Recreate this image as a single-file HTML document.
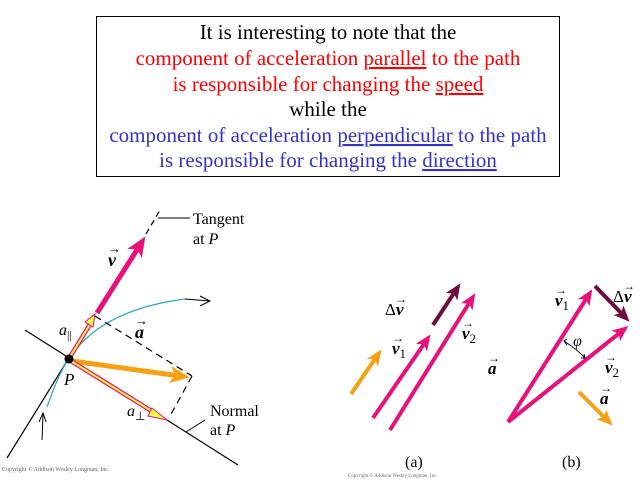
<!DOCTYPE html>
<html><head><style>
html,body{margin:0;padding:0;background:#fff;}
svg{display:block}
.t{font-family:"Liberation Serif",serif;font-size:21px;text-anchor:middle}
.s{font-family:"Liberation Serif",serif}
</style></head><body>
<svg width="640" height="480" viewBox="0 0 640 480" xmlns="http://www.w3.org/2000/svg">
<defs>
<marker id="hm" markerWidth="4" markerHeight="4" refX="2" refY="2" orient="auto" markerUnits="strokeWidth"><path d="M0,0.3 L4,2 L0,3.7 L1,2 z" fill="#e8107a"/></marker>
<marker id="ho" markerWidth="4" markerHeight="4" refX="2" refY="2" orient="auto" markerUnits="strokeWidth"><path d="M0,0.3 L4,2 L0,3.7 L1,2 z" fill="#f7a012"/></marker>
<marker id="hd" markerWidth="4" markerHeight="4" refX="2" refY="2" orient="auto" markerUnits="strokeWidth"><path d="M0,0.3 L4,2 L0,3.7 L1,2 z" fill="#6e0c3c"/></marker>
</defs>
<rect x="96.5" y="16.5" width="463" height="160" fill="none" stroke="#000" stroke-width="1"/>
<text class="t" x="328" y="39" fill="#000">It is interesting to note that the</text>
<text class="t" x="328" y="65" fill="#ff0000">component of acceleration <tspan text-decoration="underline">parallel</tspan> to the path</text>
<text class="t" x="328" y="91" fill="#ff0000">is responsible for changing the <tspan text-decoration="underline">speed</tspan></text>
<text class="t" x="328" y="116" fill="#000">while the</text>
<text class="t" x="328" y="142" fill="#3333cc">component of acceleration <tspan text-decoration="underline">perpendicular</tspan> to the path</text>
<text class="t" x="328" y="167" fill="#3333cc">is responsible for changing the <tspan text-decoration="underline">direction</tspan></text>

<line x1="7" y1="458" x2="95" y2="316" stroke="#000" stroke-width="1.2"/>
<line x1="146" y1="234" x2="160" y2="210" stroke="#000" stroke-width="1.2" stroke-dasharray="6,4"/>
<line x1="158" y1="218" x2="190" y2="218" stroke="#000" stroke-width="1"/>
<line x1="25" y1="330" x2="238" y2="465" stroke="#000" stroke-width="1.2"/>
<line x1="186" y1="432" x2="205" y2="420" stroke="#000" stroke-width="1"/>
<path d="M47,407 Q60,370 69,359 Q100,310 185,299" fill="none" stroke="#2aa6c8" stroke-width="1.2"/>
<path d="M200,296 L210,301 L200,306 M185,299 L210,301" fill="none" stroke="#000" stroke-width="1"/>
<path d="M42,440 L43,415 M39,422 L43,413 L46,422" fill="none" stroke="#000" stroke-width="1"/>
<line x1="95" y1="316" x2="192" y2="376" stroke="#000" stroke-width="1.2" stroke-dasharray="7,5"/>
<line x1="192" y1="376" x2="170" y2="416" stroke="#000" stroke-width="1.2" stroke-dasharray="7,5"/>
<line x1="97" y1="313" x2="140" y2="245" stroke="#e8107a" stroke-width="5" marker-end="url(#hm)"/>
<line x1="72" y1="361" x2="180" y2="376" stroke="#f7a012" stroke-width="5" marker-end="url(#ho)"/>
<line x1="70" y1="357" x2="92" y2="321" stroke="#e8107a" stroke-width="4.5"/>
<line x1="70" y1="357" x2="92" y2="321" stroke="#ffff40" stroke-width="2"/>
<path d="M85,322 L95,314 L93,327 z" fill="#ffff40" stroke="#e8107a" stroke-width="1"/>
<line x1="71" y1="361" x2="158" y2="415" stroke="#e8107a" stroke-width="4.5"/>
<line x1="71" y1="361" x2="158" y2="415" stroke="#ffff40" stroke-width="2"/>
<path d="M152,408 L167,420 L148,416 z" fill="#ffff40" stroke="#e8107a" stroke-width="1"/>
<circle cx="69" cy="359" r="4.5" fill="#000"/>
<text class="s" x="193" y="224" font-size="16">Tangent</text>
<text class="s" x="193" y="244" font-size="16">at <tspan font-style="italic">P</tspan></text>
<text class="s" x="210" y="416" font-size="16">Normal</text>
<text class="s" x="210" y="435" font-size="16">at <tspan font-style="italic">P</tspan></text>
<text class="s" x="64" y="385" font-size="17" font-style="italic">P</text>
<text class="s" x="108" y="266" font-size="18" font-weight="bold" font-style="italic">v</text>
<text class="s" x="108" y="253" font-size="13">&#8594;</text>
<text class="s" x="59" y="335" font-size="16" font-style="italic">a<tspan font-size="12" font-style="normal" dy="4">||</tspan></text>
<text class="s" x="135" y="338" font-size="18" font-weight="bold" font-style="italic">a</text>
<text class="s" x="135" y="325" font-size="13">&#8594;</text>
<text class="s" x="127" y="416" font-size="16" font-style="italic">a<tspan font-size="12" font-style="normal" dy="4">&#8869;</tspan></text>
<text class="s" x="2" y="471" font-size="6" fill="#666">Copyright © Addison Wesley Longman, Inc.</text>

<line x1="351" y1="394" x2="377" y2="356" stroke="#f7a012" stroke-width="4" marker-end="url(#ho)"/>
<line x1="373" y1="418" x2="426" y2="341" stroke="#e8107a" stroke-width="4" marker-end="url(#hm)"/>
<line x1="433" y1="325" x2="456" y2="290" stroke="#6e0c3c" stroke-width="4" marker-end="url(#hd)"/>
<line x1="390" y1="430" x2="471" y2="300" stroke="#e8107a" stroke-width="4" marker-end="url(#hm)"/>
<text class="s" x="385" y="315" font-size="17">&#916;<tspan font-weight="bold" font-style="italic">v</tspan></text>
<text class="s" x="395" y="303" font-size="12">&#8594;</text>
<text class="s" x="392" y="354" font-size="17" font-weight="bold" font-style="italic">v<tspan font-size="13" font-weight="normal" font-style="normal" dy="4">1</tspan></text>
<text class="s" x="392" y="342" font-size="12">&#8594;</text>
<text class="s" x="462" y="339" font-size="17" font-weight="bold" font-style="italic">v<tspan font-size="13" font-weight="normal" font-style="normal" dy="4">2</tspan></text>
<text class="s" x="462" y="327" font-size="12">&#8594;</text>
<text class="s" x="405" y="467" font-size="16">(a)</text>
<text class="s" x="348" y="477" font-size="5" fill="#666">Copyright © Addison Wesley Longman, Inc.</text>

<line x1="508" y1="422" x2="588" y2="296" stroke="#e8107a" stroke-width="4" marker-end="url(#hm)"/>
<line x1="508" y1="422" x2="622" y2="331" stroke="#e8107a" stroke-width="4" marker-end="url(#hm)"/>
<line x1="595" y1="286" x2="624" y2="316" stroke="#6e0c3c" stroke-width="4" marker-end="url(#hd)"/>
<line x1="579" y1="392" x2="607" y2="420" stroke="#f7a012" stroke-width="4" marker-end="url(#ho)"/>
<path d="M564,341 Q578,350 585,358" fill="none" stroke="#000" stroke-width="1"/>
<path d="M567,339 L564,341 L567,345 M581,358 L585,358 L584,354" fill="none" stroke="#000" stroke-width="1"/>
<text class="s" x="573" y="346" font-size="16" font-style="italic">&#966;</text>
<text class="s" x="555" y="306" font-size="17" font-weight="bold" font-style="italic">v<tspan font-size="13" font-weight="normal" font-style="normal" dy="4">1</tspan></text>
<text class="s" x="555" y="294" font-size="12">&#8594;</text>
<text class="s" x="613" y="302" font-size="17">&#916;<tspan font-weight="bold" font-style="italic">v</tspan></text>
<text class="s" x="623" y="290" font-size="12">&#8594;</text>
<text class="s" x="605" y="373" font-size="17" font-weight="bold" font-style="italic">v<tspan font-size="13" font-weight="normal" font-style="normal" dy="4">2</tspan></text>
<text class="s" x="605" y="361" font-size="12">&#8594;</text>
<text class="s" x="488" y="374" font-size="17" font-weight="bold" font-style="italic">a</text>
<text class="s" x="488" y="362" font-size="12">&#8594;</text>
<text class="s" x="600" y="404" font-size="17" font-weight="bold" font-style="italic">a</text>
<text class="s" x="600" y="392" font-size="12">&#8594;</text>
<text class="s" x="562" y="467" font-size="16">(b)</text>
</svg>
</body></html>
